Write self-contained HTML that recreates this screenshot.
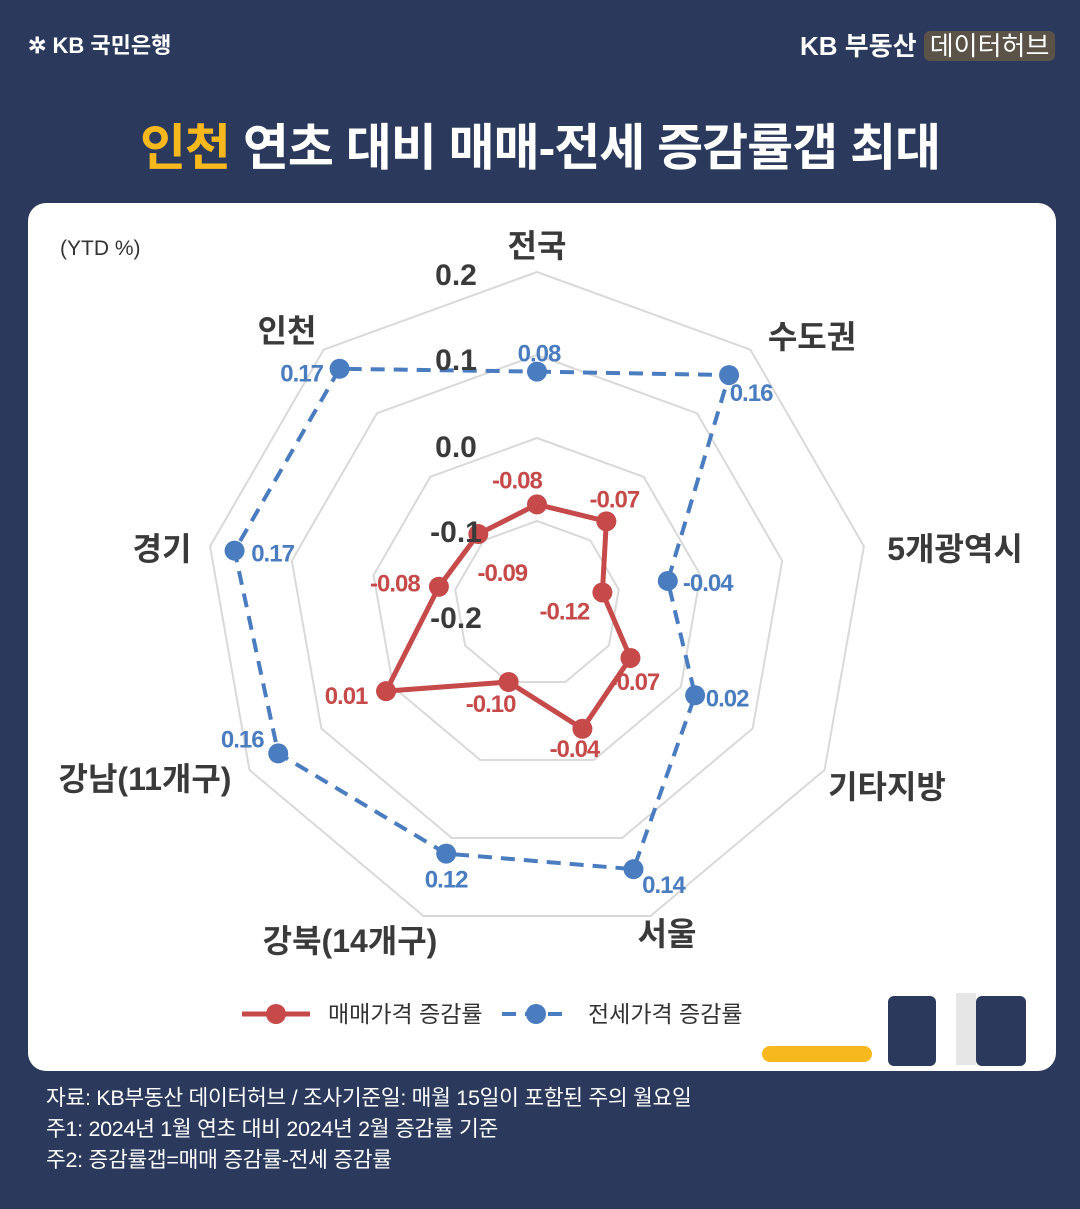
<!DOCTYPE html>
<html><head><meta charset="utf-8">
<style>
body{margin:0;width:1080px;height:1209px;background:#2b3a5c;font-family:"Liberation Sans","Noto Sans CJK KR",sans-serif;overflow:hidden;position:relative}
.abs{position:absolute}
</style></head>
<body>
<div class="abs" style="left:28px;top:28px;color:#fff;font-size:22px;font-weight:bold">✲ KB 국민은행</div>
<div class="abs" style="left:800px;top:26px;color:#fff;font-size:26px;font-weight:bold">KB 부동산 <span style="background:#5b5248;border-radius:6px;padding:0 6px;font-weight:normal">데이터허브</span></div>
<div class="abs" style="left:0;width:1080px;top:108px;text-align:center;color:#fff;font-size:50px;font-weight:bold;letter-spacing:-1px"><span style="color:#f6b81c">인천</span> 연초 대비 매매-전세 증감률갭 최대</div>
<div class="abs" style="left:28px;top:203px;width:1028px;height:868px;background:#fff;border-radius:18px"></div>
<svg class="abs" style="left:0;top:0" width="1080" height="1209" id="chart"></svg>
<div class="abs" style="left:46px;top:1083px;color:#fff;font-size:21.5px;line-height:31px;letter-spacing:-0.3px">자료: KB부동산 데이터허브 / 조사기준일: 매월 15일이 포함된 주의 월요일<br>주1: 2024년 1월 연초 대비 2024년 2월 증감률 기준<br>주2: 증감률갭=매매 증감률-전세 증감률</div>
<script>
const categories=["전국","수도권","5개광역시","기타지방","서울","강북(14개구)","강남(11개구)","경기","인천"];
const saleValues=[-0.08,-0.07,-0.12,-0.07,-0.04,-0.10,0.01,-0.08,-0.09];
const jeonseValues=[0.08,0.16,-0.04,0.02,0.14,0.12,0.16,0.17,0.17];
const ringTicks=[0.2,0.1,0.0,-0.1,-0.2];
const saleLabelOff=[[-20,-24],[8,-22],[-38,19],[4,24],[-8,20],[-18,22],[-40,5],[-44,-3],[24,39]];
const jeonseLabelOff=[[2,-18],[22,18],[40,2],[32,3],[30,16],[0,26],[-36,-14],[38,3],[-38,5]];
const catPos=[[0,-353],[275,-262],[418,-50],[350,188],[130,335],[-187,342],[-392,180],[-375,-50],[-250,-268]];
const cx=537,cy=604,R=332,vmin=-0.2,vmax=0.2;
const svg=document.getElementById('chart');const NS='http://www.w3.org/2000/svg';
function r(v){return (v-vmin)/(vmax-vmin)*R}
function pt(i,v){const a=i*2*Math.PI/categories.length;return [cx+r(v)*Math.sin(a),cy-r(v)*Math.cos(a)]}
function mk(t,at,name){const e=document.createElementNS(NS,t);for(const k in at)e.setAttribute(k,at[k]);


svg.appendChild(e);return e}
ringTicks.forEach(t=>{if(r(t)<=0)return;const p=categories.map((c,i)=>pt(i,t).join(',')).join(' ');
mk('polygon',{points:p,fill:'none',stroke:'#d9d9d9','stroke-width':2},'grid-ring')});
function series(vals,col,dash,name,off,lw){
mk('polygon',{points:vals.map((v,i)=>pt(i,v).join(',')).join(' '),fill:'none',stroke:col,'stroke-width':lw,'stroke-dasharray':dash,'stroke-linejoin':'round'},name+'-line');
vals.forEach((v,i)=>{const [x,y]=pt(i,v);mk('circle',{cx:x,cy:y,r:10,fill:col},name+'-point');
const t=mk('text',{x:x+off[i][0],y:y+off[i][1]+8,fill:col,'font-size':24,'font-weight':'bold','text-anchor':'middle','letter-spacing':'-1'},name+'-value-label');t.textContent=v.toFixed(2);});
}
series(jeonseValues,'#4a7cc0','14 9','jeonse',jeonseLabelOff,4);
series(saleValues,'#c64a4a','','sale',saleLabelOff,5);
const tickY={"0.2":285,"0.1":370,"0":457,"-0.1":542,"-0.2":628};
ringTicks.forEach(t=>{const tx=mk('text',{x:456,y:tickY[String(t)],fill:'#3a3a3a','font-size':30,'font-weight':'bold','text-anchor':'middle'},'ring-tick-label');tx.textContent=t.toFixed(1);});
categories.forEach((c,i)=>{const t=mk('text',{x:cx+catPos[i][0],y:600+catPos[i][1]+10,fill:'#3a3a3a','font-size':32,'font-weight':'bold','text-anchor':'middle'},'category-label');t.textContent=c;});
const yt=mk('text',{x:60,y:255,fill:'#333','font-size':21},'unit-label');yt.textContent='(YTD %)';
mk('line',{x1:242,y1:1014,x2:310,y2:1014,stroke:'#c64a4a','stroke-width':5},'legend-sale-line');
mk('circle',{cx:276,cy:1014,r:10,fill:'#c64a4a'},'legend-sale-marker');
const l1=mk('text',{x:328,y:1022,fill:'#333','font-size':23},'legend-sale-text');l1.textContent='매매가격 증감률';
mk('line',{x1:502,y1:1014,x2:570,y2:1014,stroke:'#4a7cc0','stroke-width':4,'stroke-dasharray':'14 9'},'legend-jeonse-line');
mk('circle',{cx:536,cy:1014,r:10,fill:'#4a7cc0'},'legend-jeonse-marker');
const l2=mk('text',{x:588,y:1022,fill:'#333','font-size':23},'legend-jeonse-text');l2.textContent='전세가격 증감률';
mk('rect',{x:888,y:996,width:48,height:70,rx:6,fill:'#2b3a5c'},'deco-block');
mk('rect',{x:956,y:993,width:20,height:72,fill:'#e6e6e6'},'deco-block');
mk('rect',{x:976,y:996,width:50,height:70,rx:6,fill:'#2b3a5c'},'deco-block');
mk('rect',{x:762,y:1046,width:110,height:16,rx:8,fill:'#f6b81c'},'deco-bar');
</script>
</body></html>
